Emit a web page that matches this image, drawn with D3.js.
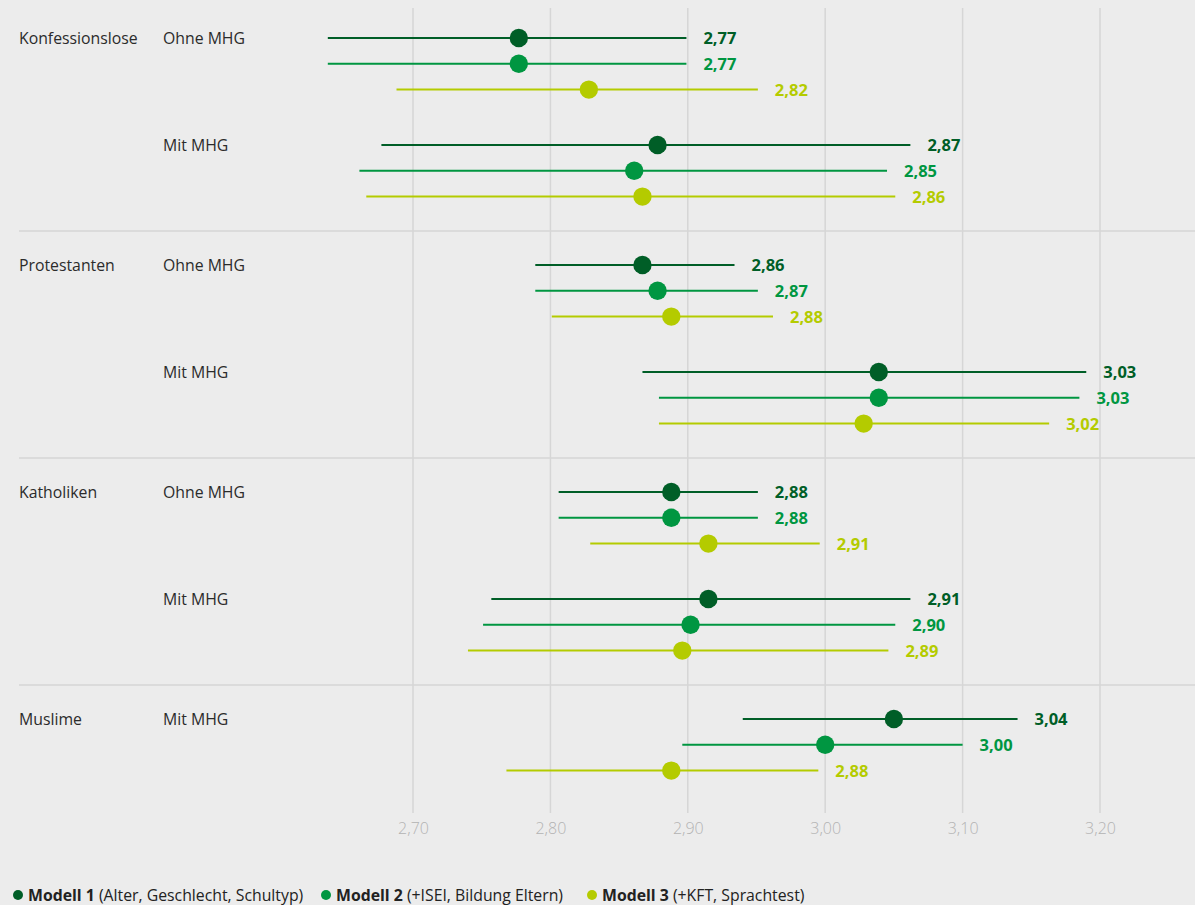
<!DOCTYPE html>
<html>
<head>
<meta charset="utf-8">
<script src="https://cdn.jsdelivr.net/npm/d3@7"></script>
<style>
  html, body { margin: 0; padding: 0; background: #ececec; }
  svg { display: block; font-family: "Open Sans", sans-serif; }
</style>
</head>
<body>
<svg id="chart" width="1195" height="905"></svg>
<script>
// rows = one per subgroup (group + Ohne/Mit MHG)
const groupLabels = ["Konfessionslose", "Konfessionslose", "Protestanten", "Protestanten", "Katholiken", "Katholiken", "Muslime"]
const subLabels = ["Ohne MHG", "Mit MHG", "Ohne MHG", "Mit MHG", "Ohne MHG", "Mit MHG", "Mit MHG"]

const modelNames = ["Modell 1", "Modell 2", "Modell 3"]
const modelNotes = ["(Alter, Geschlecht, Schultyp)", "(+ISEI, Bildung Eltern)", "(+KFT, Sprachtest)"]
const modelColors = ["#005e27", "#009641", "#b4cb00"]

// point estimates, confidence interval ends, printed values
const m1Mean = [2.777, 2.878, 2.867, 3.039, 2.888, 2.915, 3.050]
const m1Lo   = [2.638, 2.677, 2.789, 2.867, 2.806, 2.757, 2.940]
const m1Hi   = [2.899, 3.062, 2.934, 3.190, 2.951, 3.062, 3.140]
const m1Val  = [2.77, 2.87, 2.86, 3.03, 2.88, 2.91, 3.04]

const m2Mean = [2.777, 2.861, 2.878, 3.039, 2.888, 2.902, 3.000]
const m2Lo   = [2.638, 2.661, 2.789, 2.879, 2.806, 2.751, 2.896]
const m2Hi   = [2.899, 3.045, 2.951, 3.185, 2.951, 3.051, 3.100]
const m2Val  = [2.77, 2.85, 2.87, 3.03, 2.88, 2.90, 3.00]

const m3Mean = [2.828, 2.867, 2.888, 3.028, 2.915, 2.896, 2.888]
const m3Lo   = [2.688, 2.666, 2.801, 2.879, 2.829, 2.740, 2.768]
const m3Hi   = [2.951, 3.051, 2.962, 3.163, 2.996, 3.046, 2.995]
const m3Val  = [2.82, 2.86, 2.88, 3.02, 2.91, 2.89, 2.88]

const tickValues = [2.7, 2.8, 2.9, 3.0, 3.1, 3.2]

const svg = d3.select("#chart")

const x = d3.scaleLinear().domain([2.7, 3.2]).range([413, 1100])
const fmt = v => d3.format(".2f")(v).replace(".", ",")

const groups = Array.from(new Set(groupLabels))
const subStep = 107
const groupGap = 13
const rowStep = 25.8
function subY(i) {
  return 38 + i * subStep + groups.indexOf(groupLabels[i]) * groupGap
}

// vertical grid
svg.append("g")
  .selectAll("line")
  .data(tickValues)
  .join("line")
  .attr("x1", d => x(d)).attr("x2", d => x(d))
  .attr("y1", 8).attr("y2", 813)
  .attr("stroke", "#d6d6d6")
  .attr("stroke-width", 1.5)

// bottom axis labels
const axis = d3.axisBottom(x).tickValues(tickValues).tickSize(0).tickPadding(0).tickFormat(d => fmt(d))
const axisG = svg.append("g").attr("transform", "translate(0,823)").call(axis)
axisG.select(".domain").remove()
axisG.selectAll("text")
  .attr("fill", "#b3b3b3")
  .style("font-size", "16px")
  .style("font-weight", 300)
  .style("font-family", "'Open Sans', sans-serif")

// group separators
groups.forEach((g, gi) => {
  if (gi == 0) return
  const first = groupLabels.indexOf(g)
  svg.append("line")
    .attr("x1", 19).attr("x2", 1195)
    .attr("y1", subY(first) - 34).attr("y2", subY(first) - 34)
    .attr("stroke", "#d6d6d6")
    .attr("stroke-width", 1.5)
})

// row labels
groupLabels.forEach((g, i) => {
  if (groupLabels.indexOf(g) == i) {
    svg.append("text")
      .attr("x", 19).attr("y", subY(i)).attr("dy", "0.35em")
      .attr("fill", "#2b2b2b")
      .style("font-size", "15.8px")
      .text(g)
  }
  svg.append("text")
    .attr("x", 163).attr("y", subY(i)).attr("dy", "0.35em")
    .attr("fill", "#2b2b2b")
    .style("font-size", "15.8px")
    .text(subLabels[i])
})

// intervals, points, values
const models = [
  { mean: m1Mean, lo: m1Lo, hi: m1Hi, val: m1Val },
  { mean: m2Mean, lo: m2Lo, hi: m2Hi, val: m2Val },
  { mean: m3Mean, lo: m3Lo, hi: m3Hi, val: m3Val }
]

models.forEach((m, k) => {
  const color = modelColors[k]
  const rows = m.mean.map((v, i) => ({ mean: v, lo: m.lo[i], hi: m.hi[i], val: m.val[i], y: subY(i) + k * rowStep }))
  const g = svg.append("g")
  g.selectAll("line")
    .data(rows)
    .join("line")
    .attr("x1", d => x(d.lo)).attr("x2", d => x(d.hi))
    .attr("y1", d => d.y).attr("y2", d => d.y)
    .attr("stroke", color)
    .attr("stroke-width", 2)
  g.selectAll("circle")
    .data(rows)
    .join("circle")
    .attr("cx", d => x(d.mean)).attr("cy", d => d.y)
    .attr("r", 9.2)
    .attr("fill", color)
  g.selectAll("text")
    .data(rows)
    .join("text")
    .attr("x", d => x(d.hi) + 17).attr("y", d => d.y).attr("dy", "0.36em")
    .attr("fill", color)
    .style("font-size", "16.5px")
    .style("font-weight", 700)
    .text(d => fmt(d.val))
})

// legend
const legendX = [18, 326, 592]
const legend = svg.append("g")
modelNames.forEach((name, k) => {
  legend.append("circle")
    .attr("cx", legendX[k]).attr("cy", 895).attr("r", 5)
    .attr("fill", modelColors[k])
  const t = legend.append("text")
    .attr("x", legendX[k] + 10).attr("y", 895).attr("dy", "0.35em")
    .attr("fill", "#222")
    .style("font-size", "15.8px")
  t.append("tspan").style("font-weight", 700).text(name + " ")
  t.append("tspan").text(modelNotes[k])
})
</script>
</body>
</html>
